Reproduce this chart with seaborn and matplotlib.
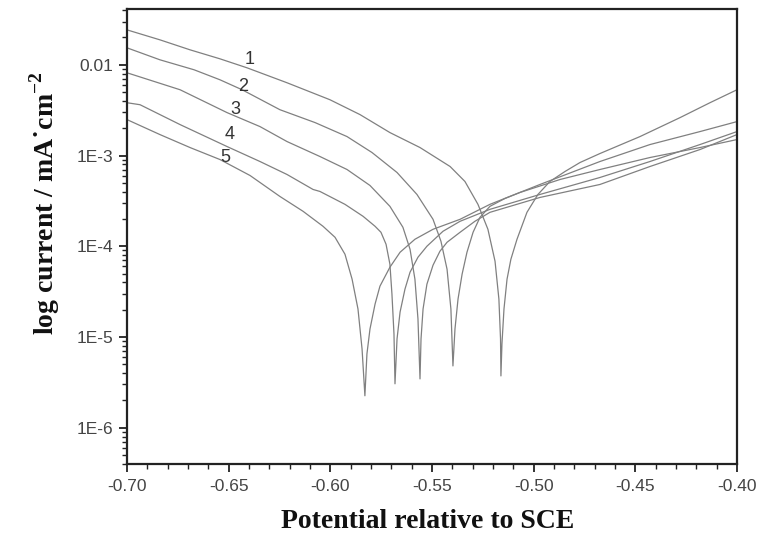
import matplotlib
matplotlib.use("Agg")
import matplotlib.pyplot as plt
import matplotlib.ticker as mticker
import numpy as np
import pandas as pd
import seaborn as sns

# Potential (V vs SCE) and log10 current (mA cm^-2)
c1_E = [-0.700, -0.6838, -0.6690, -0.6543, -0.6410, -0.6213, -0.6002, -0.5854, -0.5707, -0.5559,
        -0.5411, -0.5338, -0.5274, -0.5225, -0.5190, -0.5171, -0.5163, -0.5161, -0.5156, -0.5146,
        -0.5131, -0.5112, -0.5082, -0.5033, -0.4979, -0.4920, -0.4846, -0.4772, -0.4674, -0.4477,
        -0.4280, -0.4133, -0.400]
c1_logi = [-1.615, -1.725, -1.835, -1.934, -2.033, -2.198, -2.385, -2.549, -2.747, -2.912,
           -3.121, -3.286, -3.538, -3.813, -4.165, -4.582, -5.022, -5.429, -5.077, -4.692,
           -4.363, -4.143, -3.923, -3.626, -3.429, -3.286, -3.176, -3.077, -2.978, -2.791,
           -2.582, -2.418, -2.275]

c2_E = [-0.700, -0.6838, -0.6670, -0.6543, -0.6434, -0.6248, -0.6075, -0.5918, -0.5795, -0.5672,
        -0.5574, -0.5495, -0.5456, -0.5426, -0.5407, -0.5397, -0.5387, -0.5372, -0.5352, -0.5328,
        -0.5298, -0.5264, -0.5215, -0.5141, -0.5067, -0.4870, -0.4674, -0.4428, -0.4182, -0.400]
c2_logi = [-1.813, -1.945, -2.055, -2.165, -2.275, -2.495, -2.637, -2.791, -2.967, -3.187,
           -3.429, -3.703, -3.945, -4.253, -4.692, -5.319, -4.912, -4.582, -4.308, -4.066,
           -3.846, -3.681, -3.560, -3.473, -3.407, -3.264, -3.154, -3.022, -2.912, -2.824]

c3_E = [-0.700, -0.6739, -0.6508, -0.6346, -0.6213, -0.6051, -0.5918, -0.5805, -0.5707, -0.5643,
        -0.5608, -0.5584, -0.5569, -0.5559, -0.5554, -0.5544, -0.5525, -0.5495, -0.5461, -0.5426,
        -0.5362, -0.5289, -0.5215, -0.4969, -0.4674, -0.4428, -0.4182, -0.400]
c3_logi = [-2.088, -2.275, -2.527, -2.681, -2.846, -3.011, -3.154, -3.330, -3.560, -3.791,
           -4.033, -4.363, -4.802, -5.462, -5.022, -4.692, -4.418, -4.209, -4.055, -3.956,
           -3.846, -3.725, -3.626, -3.462, -3.319, -3.121, -2.934, -2.769]

c4_E = [-0.700, -0.6936, -0.6739, -0.6508, -0.6346, -0.6213, -0.6085, -0.6051, -0.5928, -0.5839,
        -0.5780, -0.5751, -0.5726, -0.5707, -0.5697, -0.5687, -0.5682, -0.5672, -0.5657, -0.5633,
        -0.5608, -0.5569, -0.5525, -0.5446, -0.5362, -0.5215, -0.4969, -0.4674, -0.4428, -0.4182,
        -0.400]
c4_logi = [-2.418, -2.440, -2.659, -2.901, -3.066, -3.209, -3.374, -3.396, -3.538, -3.670,
           -3.780, -3.846, -3.978, -4.198, -4.527, -4.967, -5.516, -5.022, -4.725, -4.473,
           -4.286, -4.121, -4.000, -3.835, -3.725, -3.593, -3.429, -3.242, -3.066, -2.879,
           -2.736]

c5_E = [-0.700, -0.6838, -0.6690, -0.6543, -0.6395, -0.6248, -0.6134, -0.6036, -0.5977, -0.5928,
        -0.5893, -0.5864, -0.5844, -0.5830, -0.5820, -0.5805, -0.5780, -0.5756, -0.5707, -0.5657,
        -0.5584, -0.5495, -0.5362, -0.5215, -0.4969, -0.4674, -0.4428, -0.4182, -0.400]
c5_logi = [-2.604, -2.769, -2.912, -3.044, -3.220, -3.451, -3.615, -3.780, -3.901, -4.088,
           -4.363, -4.692, -5.132, -5.648, -5.187, -4.912, -4.637, -4.440, -4.231, -4.066,
           -3.923, -3.813, -3.703, -3.538, -3.319, -3.066, -2.879, -2.736, -2.626]

curve_names = ["1", "2", "3", "4", "5"]
label_E = [-0.6395, -0.6429, -0.6469, -0.6493, -0.6518]
label_logi = [-1.945, -2.242, -2.495, -2.769, -3.022]

x_ticks = [-0.70, -0.65, -0.60, -0.55, -0.50, -0.45, -0.40]
y_ticks = [1e-6, 1e-5, 1e-4, 1e-3, 1e-2]
y_ticklabels = ["1E-6", "1E-5", "1E-4", "1E-3", "0.01"]

frames = []
for name, E, lg in zip(curve_names,
                       [c1_E, c2_E, c3_E, c4_E, c5_E],
                       [c1_logi, c2_logi, c3_logi, c4_logi, c5_logi]):
    frames.append(pd.DataFrame({"E": E, "I": np.power(10.0, lg), "curve": name}))
df = pd.concat(frames, ignore_index=True)

sns.set_style("ticks")
plt.rcParams["font.family"] = ["Liberation Sans", "DejaVu Sans"]
plt.rcParams["mathtext.fontset"] = "custom"
plt.rcParams["mathtext.rm"] = "Liberation Serif:bold"
plt.rcParams["mathtext.bf"] = "Liberation Serif:bold"

fig = plt.figure(figsize=(7.59, 5.41), dpi=100)
ax = fig.add_axes([127 / 759, 1 - 464 / 541, (737 - 127) / 759, (464 - 9) / 541])

for name in curve_names:
    sub = df[df["curve"] == name]
    sns.lineplot(data=sub, x="E", y="I", ax=ax, color="#808080", linewidth=0.9,
                 sort=False, estimator=None, legend=False)

ax.set_yscale("log")
ax.set_xlim(-0.70, -0.40)
ax.set_ylim(10 ** -6.4, 10 ** -1.385)

ax.set_xticks(x_ticks)
ax.xaxis.set_major_formatter(mticker.FormatStrFormatter("%.2f"))
ax.xaxis.set_minor_locator(mticker.MultipleLocator(0.01))
ax.set_yticks(y_ticks)
ax.set_yticklabels(y_ticklabels)
ax.yaxis.set_minor_locator(mticker.LogLocator(base=10, subs=np.arange(2, 10)))
ax.yaxis.set_minor_formatter(mticker.NullFormatter())

ax.tick_params(axis="both", which="major", direction="out", length=6, width=1.3,
               labelsize=12.5, labelcolor="#444444", color="#222222",
               bottom=True, left=True, top=False, right=False)
ax.tick_params(axis="both", which="minor", direction="out", length=3.5, width=1.0,
               color="#222222", bottom=True, left=True, top=False, right=False)
ax.tick_params(axis="x", which="major", pad=5)
ax.tick_params(axis="y", which="major", pad=4)

for sp in ax.spines.values():
    sp.set_visible(True)
    sp.set_color("#222222")
    sp.set_linewidth(1.6)

for name, xe, yl in zip(curve_names, label_E, label_logi):
    ax.text(xe, 10 ** yl, name, fontsize=13, color="#333333", ha="center", va="center")

ax.set_xlabel("Potential relative to SCE", fontsize=20, fontweight="bold",
              family="Liberation Serif", color="#111111")
ax.xaxis.label.set_va("center")
ax.xaxis.set_label_coords((428 - 127) / 610, (464 - 522) / 455)
ax.set_ylabel("log current / mA\u02d9cm$^{-2}$", fontsize=20, fontweight="bold",
              family="Liberation Serif", color="#111111")
ax.yaxis.label.set_va("center")
ax.yaxis.set_label_coords((45 - 127) / 610, (464 - 203) / 455)

fig.savefig("out.png", dpi=100)
